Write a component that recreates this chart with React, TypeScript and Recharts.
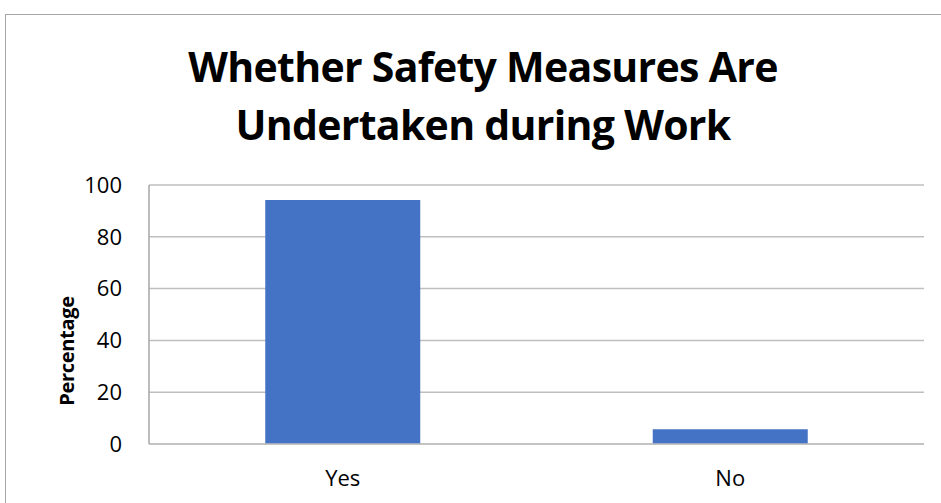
import React from 'react';
import {
    BarChart,
    Bar,
    XAxis,
    YAxis,
    CartesianGrid,
} from 'recharts';

// Chart values
const categories = ['Yes', 'No'];
const percentages = [94.2, 5.7];
const yTicks = [0, 20, 40, 60, 80, 100];

const data = categories.map((name, i) => ({ name, value: percentages[i] }));

const FONT = '"Open Sans", "Liberation Sans", sans-serif';

const PercentLabel = () => (
    <text
        x={66}
        y={351}
        transform="rotate(-90 66 351)"
        textAnchor="middle"
        dominantBaseline="central"
        fontFamily={FONT}
        fontWeight={700}
        fontSize={20}
        letterSpacing={-0.3}
        fill="#000"
    >
        Percentage
    </text>
);

const App: React.FC = () => {
    return (
        <div
            style={{
                position: 'absolute',
                left: 0,
                top: 0,
                width: 941,
                height: 503,
                overflow: 'hidden',
                background: '#fff',
            }}
        >
            {/* outer chart frame */}
            <div
                style={{
                    position: 'absolute',
                    left: 5,
                    top: 14,
                    width: 960,
                    height: 520,
                    border: '1.5px solid #a6a6a6',
                }}
            />
            <div
                style={{
                    position: 'absolute',
                    left: 0,
                    top: 37,
                    width: 966,
                    textAlign: 'center',
                    fontFamily: FONT,
                    fontWeight: 700,
                    fontSize: 41,
                    letterSpacing: '-0.7px',
                    lineHeight: '58px',
                    color: '#000',
                }}
            >
                Whether Safety Measures Are
                <br />
                Undertaken during Work
            </div>
            <div style={{ position: 'absolute', left: 0, top: 0 }}>
                <BarChart
                    width={941}
                    height={503}
                    data={data}
                    margin={{ top: 185, right: 17, bottom: 0, left: 0 }}
                    barCategoryGap="30%"
                >
                    <CartesianGrid vertical={false} stroke="#bfbfbf" strokeWidth={1.5} />
                    <XAxis
                        dataKey="name"
                        axisLine={{ stroke: '#bfbfbf', strokeWidth: 1.5 }}
                        tickLine={false}
                        tickSize={0}
                        tickMargin={26}
                        height={59}
                        tick={{ fontFamily: FONT, fontSize: 22, fill: '#000' }}
                    />
                    <YAxis
                        width={149}
                        domain={[0, 100]}
                        ticks={yTicks}
                        axisLine={{ stroke: '#a6a6a6', strokeWidth: 1.5 }}
                        tickLine={false}
                        tickSize={0}
                        tickMargin={27}
                        tick={{ fontFamily: FONT, fontSize: 22, fill: '#000' }}
                        label={<PercentLabel />}
                    />
                    <Bar dataKey="value" fill="#4472C4" isAnimationActive={false} />
                </BarChart>
            </div>
        </div>
    );
};

export default App;
